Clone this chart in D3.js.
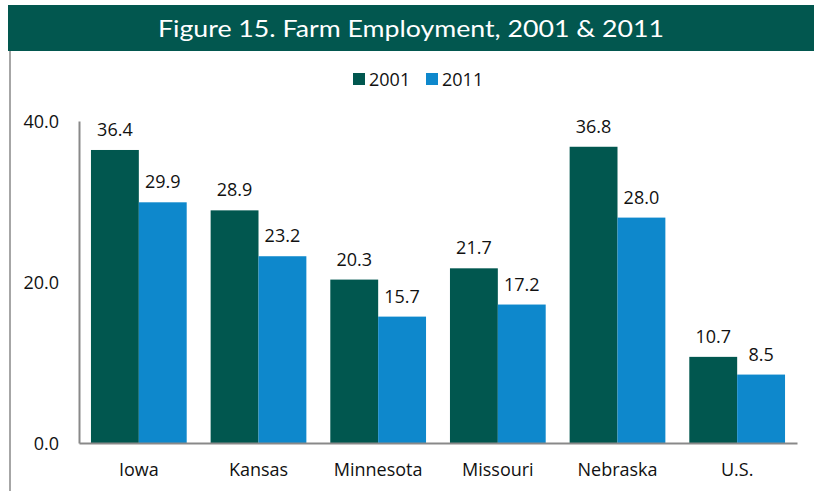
<!DOCTYPE html>
<html>
<head>
<meta charset="utf-8">
<script src="https://cdn.jsdelivr.net/npm/d3@7"></script>
<style>
  html, body { margin: 0; padding: 0; background: #fff; }
  svg { display: block; }
  text { font-family: "Open Sans", "Noto Sans", sans-serif; fill: #111; }
</style>
</head>
<body>
<svg id="chart" width="814" height="491"></svg>
<script>
// Farm employment share by state, 2001 vs 2011
const categories = ["Iowa", "Kansas", "Minnesota", "Missouri", "Nebraska", "U.S."];
const seriesNames = ["2001", "2011"];
const values2001 = [36.4, 28.9, 20.3, 21.7, 36.8, 10.7];
const values2011 = [29.9, 23.2, 15.7, 17.2, 28.0, 8.5];
const yTicks = [0, 20, 40];
const titleText = "Figure 15. Farm Employment, 2001 & 2011";

const colors = { "2001": "#01574f", "2011": "#0e88cc" };
const rows = categories.map((c, i) => ({ category: c, "2001": values2001[i], "2011": values2011[i] }));

const svg = d3.select("#chart");
const W = 814, H = 491;
const plot = { left: 79, right: 797, top: 121, bottom: 443 };
const labelSize = "18px";

// Title band
svg.append("rect")
  .attr("x", 8).attr("y", 5)
  .attr("width", W - 8).attr("height", 46)
  .attr("fill", "#02574f");
svg.append("text")
  .attr("x", 411).attr("y", 37)
  .attr("text-anchor", "middle")
  .attr("textLength", 506)
  .attr("lengthAdjust", "spacingAndGlyphs")
  .style("font-family", "Lato, 'Open Sans', sans-serif")
  .style("font-size", "23px")
  .style("fill", "#ffffff")
  .text(titleText);

// Frame line on the left edge
svg.append("line")
  .attr("x1", 10).attr("x2", 10)
  .attr("y1", 51).attr("y2", H)
  .attr("stroke", "#a6a6a6").attr("stroke-width", 2);

// Legend
const legendItems = [
  { name: seriesNames[0], x: 353 },
  { name: seriesNames[1], x: 426 }
];
const lg = svg.append("g").selectAll("g").data(legendItems).join("g")
  .attr("transform", d => `translate(${d.x},0)`);
lg.append("rect")
  .attr("x", 0).attr("y", 73)
  .attr("width", 12).attr("height", 12)
  .attr("fill", d => colors[d.name]);
lg.append("text")
  .attr("x", 16).attr("y", 86)
  .style("font-size", labelSize)
  .text(d => d.name);

// Scales
const x0 = d3.scaleBand()
  .domain(categories)
  .range([plot.left, plot.right])
  .paddingInner(0.2)
  .paddingOuter(0.1);
const x1 = d3.scaleBand()
  .domain(seriesNames)
  .range([0, x0.bandwidth()]);
const y = d3.scaleLinear()
  .domain([0, 40])
  .range([plot.bottom, plot.top]);

// Bars
const groups = svg.append("g").selectAll("g").data(rows).join("g")
  .attr("transform", d => `translate(${x0(d.category)},0)`);
groups.selectAll("rect")
  .data(d => seriesNames.map(s => ({ series: s, value: d[s] })))
  .join("rect")
  .attr("x", d => x1(d.series))
  .attr("y", d => y(d.value))
  .attr("width", x1.bandwidth())
  .attr("height", d => y(0) - y(d.value))
  .attr("fill", d => colors[d.series]);

// Value labels
groups.selectAll("text")
  .data(d => seriesNames.map(s => ({ series: s, value: d[s] })))
  .join("text")
  .attr("x", d => x1(d.series) + x1.bandwidth() / 2)
  .attr("y", d => y(d.value) - 14)
  .attr("text-anchor", "middle")
  .style("font-size", labelSize)
  .text(d => d3.format(".1f")(d.value));

// Y axis
const yAxis = svg.append("g")
  .attr("transform", `translate(${plot.left},0)`)
  .call(d3.axisLeft(y).tickValues(yTicks).tickFormat(d3.format(".1f")).tickSize(0).tickSizeOuter(0).tickPadding(20));
yAxis.select(".domain").attr("stroke", "#898989").attr("stroke-width", 2);
yAxis.selectAll("text")
  .style("font-size", labelSize)
  .style("fill", "#111")
  .style("font-family", "'Open Sans', sans-serif")
  .attr("dy", "0.36em");

// X axis
const xAxis = svg.append("g")
  .attr("transform", `translate(0,${plot.bottom})`)
  .call(d3.axisBottom(x0).tickSize(0).tickSizeOuter(0).tickPadding(20));
xAxis.select(".domain").attr("stroke", "#898989").attr("stroke-width", 2);
xAxis.selectAll("text")
  .style("font-size", labelSize)
  .style("fill", "#111")
  .style("font-family", "'Open Sans', sans-serif");
</script>
</body>
</html>
